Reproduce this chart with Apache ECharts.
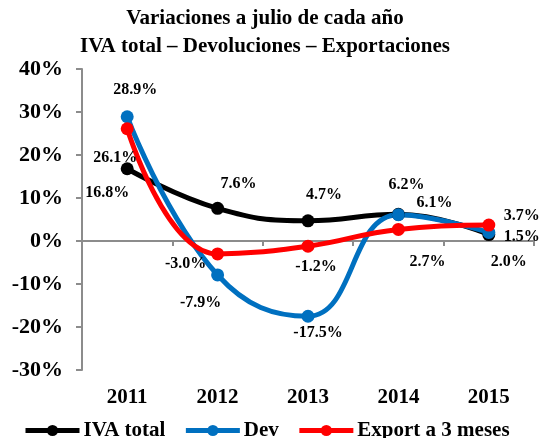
<!DOCTYPE html>
<html>
<head>
<meta charset="utf-8">
<script src="https://cdn.jsdelivr.net/npm/echarts@6/dist/echarts.min.js"></script>
<style>
  html, body { margin: 0; padding: 0; background: #fff; }
  #chart { width: 542px; height: 438px; }
</style>
</head>
<body>
<div id="chart"></div>
<script>
// data
var years = ['2011', '2012', '2013', '2014', '2015'];
var ivaTotal = [16.8, 7.6, 4.7, 6.2, 1.5];
var dev = [28.9, -7.9, -17.5, 6.1, 2.0];
var export3m = [26.1, -3.0, -1.2, 2.7, 3.7];
var yTicks = [-30, -20, -10, 0, 10, 20, 30, 40];

// label offsets (px) from each point, like the source placed them
var ivaOffsets = [[-20, 24], [21, -24], [16, -26], [8, -29], [33, 2]];
var devOffsets = [[8, -27], [-17, 28], [10, 17], [36, -12], [20, 29]];
var expOffsets = [[-12, 29], [-32, 10], [8, 21], [29, 32], [33, -9]];

var serif = '"Liberation Serif", "Times New Roman", serif';

function withLabels(values, offsets) {
    return values.map(function (v, i) {
        return {
            value: v,
            label: {
                show: true,
                position: 'inside',
                offset: offsets[i],
                formatter: v.toFixed(1) + '%',
                color: '#000',
                fontFamily: serif,
                fontWeight: 'bold',
                fontSize: 16
            }
        };
    });
}

function makeSeries(name, color, values, offsets) {
    return {
        name: name,
        type: 'line',
        smooth: 0.45,
        data: withLabels(values, offsets),
        symbol: 'circle',
        symbolSize: 13,
        lineStyle: { color: color, width: 5 },
        itemStyle: { color: color },
        emphasis: { disabled: true }
    };
}

var chart = echarts.init(document.getElementById('chart'));

var option = {
    animation: false,
    title: {
        text: 'Variaciones a julio de cada año\nIVA total – Devoluciones – Exportaciones',
        left: 260,
        textAlign: 'center',
        top: 0,
        textStyle: {
            fontFamily: serif,
            fontWeight: 'bold',
            fontSize: 21,
            lineHeight: 28,
            color: '#000'
        }
    },
    legend: {
        bottom: -8,
        left: 18,
        itemWidth: 54,
        itemHeight: 14,
        itemGap: 18,
        lineStyle: { width: 5 },
        textStyle: {
            fontFamily: serif,
            fontWeight: 'bold',
            fontSize: 21,
            color: '#000',
            padding: [0, 0, 0, -1]
        },
        data: ['IVA total', 'Dev', 'Export a 3 meses']
    },
    grid: {
        left: 82,
        right: 8,
        top: 69,
        bottom: 68,
        containLabel: false
    },
    xAxis: [
        {
            // labels along the bottom
            type: 'category',
            data: years,
            position: 'bottom',
            axisLine: { show: false, onZero: false },
            axisTick: { show: false },
            axisLabel: {
                margin: 17,
                fontFamily: serif,
                fontWeight: 'bold',
                fontSize: 21,
                color: '#000'
            },
            splitLine: { show: false }
        },
        {
            // zero line with its ticks
            type: 'category',
            data: years,
            position: 'bottom',
            axisLine: { show: true, onZero: true, lineStyle: { color: '#8c8c8c', width: 2 } },
            axisTick: { show: true, inside: false, length: 5, lineStyle: { color: '#8c8c8c', width: 2 } },
            axisLabel: { show: false },
            splitLine: { show: false }
        }
    ],
    yAxis: {
        type: 'value',
        min: yTicks[0],
        max: yTicks[yTicks.length - 1],
        interval: 10,
        axisLine: { show: true, lineStyle: { color: '#8c8c8c', width: 2 } },
        axisTick: { show: true, length: 6, lineStyle: { color: '#8c8c8c', width: 2 } },
        splitLine: { show: false },
        axisLabel: {
            margin: 19,
            formatter: '{value}%',
            fontFamily: serif,
            fontWeight: 'bold',
            fontSize: 22,
            color: '#000'
        }
    },
    series: [
        makeSeries('IVA total', '#000000', ivaTotal, ivaOffsets),
        makeSeries('Dev', '#0070C0', dev, devOffsets),
        makeSeries('Export a 3 meses', '#FF0000', export3m, expOffsets)
    ]
};

chart.setOption(option);
</script>
</body>
</html>
